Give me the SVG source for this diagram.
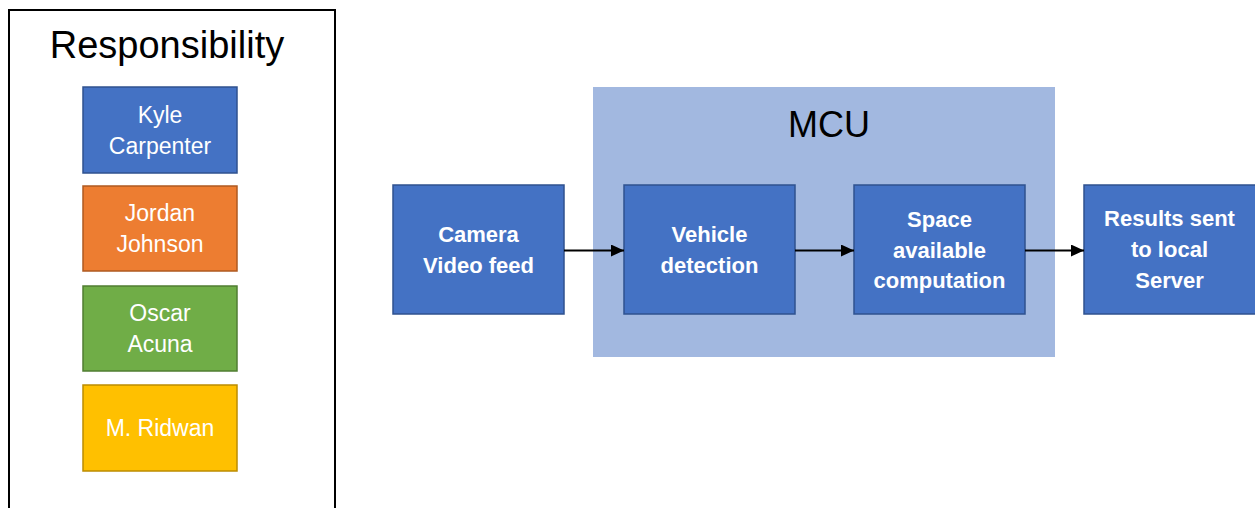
<svg xmlns="http://www.w3.org/2000/svg" width="1255" height="508" viewBox="0 0 1255 508">
<style>
.leg{stroke-width:1.5}
.blue{fill:#4472C4;stroke:#2F528F;stroke-width:1.5}
.lt{font-family:"Liberation Sans",Arial,sans-serif;font-size:23px;fill:#ffffff;text-anchor:middle}
.bt{font-family:"Liberation Sans",Arial,sans-serif;font-size:22px;font-weight:bold;fill:#ffffff;text-anchor:middle}
.title{font-family:"Liberation Sans",Arial,sans-serif;font-size:38px;fill:#000000;text-anchor:middle}
.conn{stroke:#000;stroke-width:2;fill:none}
</style>
<defs>
<marker id="ah" markerWidth="13" markerHeight="12" refX="13" refY="6" orient="auto" markerUnits="userSpaceOnUse">
<path d="M0,0 L13,6 L0,12 Z" fill="#000"/>
</marker>
</defs>
<rect width="1255" height="508" fill="#ffffff"/>
<g id="legend">
<rect x="9" y="10" width="326" height="510" fill="#ffffff" stroke="#000" stroke-width="2"/>
<text class="title" x="167" y="58">Responsibility</text>
</g>
<g id="kyle">
<rect class="leg" x="83" y="87" width="154" height="86" fill="#4472C4" stroke="#2F528F"/>
<text class="lt" x="160" y="123">Kyle</text>
<text class="lt" x="160" y="154">Carpenter</text>
</g>
<g id="jordan">
<rect class="leg" x="83" y="186" width="154" height="85" fill="#ED7D31" stroke="#AE5A21"/>
<text class="lt" x="160" y="221">Jordan</text>
<text class="lt" x="160" y="252">Johnson</text>
</g>
<g id="oscar">
<rect class="leg" x="83" y="286" width="154" height="85" fill="#70AD47" stroke="#507E32"/>
<text class="lt" x="160" y="321">Oscar</text>
<text class="lt" x="160" y="352">Acuna</text>
</g>
<g id="ridwan">
<rect class="leg" x="83" y="385" width="154" height="86" fill="#FFC000" stroke="#BC8C00"/>
<text class="lt" x="160" y="436">M. Ridwan</text>
</g>
<g id="mcu">
<rect x="593" y="87" width="462" height="270" fill="#A2B8E0"/>
<text class="title" x="829" y="137" style="font-size:36px">MCU</text>
</g>
<g id="camera">
<rect class="blue" x="393" y="185" width="171" height="129"/>
<text class="bt" x="478.5" y="242">Camera</text>
<text class="bt" x="478.5" y="273">Video feed</text>
</g>
<g id="vehicle">
<rect class="blue" x="624" y="185" width="171" height="129"/>
<text class="bt" x="709.5" y="242">Vehicle</text>
<text class="bt" x="709.5" y="273">detection</text>
</g>
<g id="space">
<rect class="blue" x="854" y="185" width="171" height="129"/>
<text class="bt" x="939.5" y="227">Space</text>
<text class="bt" x="939.5" y="258">available</text>
<text class="bt" x="939.5" y="288">computation</text>
</g>
<g id="results">
<rect class="blue" x="1084" y="185" width="172" height="129"/>
<text class="bt" x="1169.5" y="226">Results sent</text>
<text class="bt" x="1169.5" y="257">to local</text>
<text class="bt" x="1169.5" y="288">Server</text>
</g>
<g id="connectors">
<line class="conn" x1="564" y1="250.5" x2="624" y2="250.5" marker-end="url(#ah)"/>
<line class="conn" x1="795" y1="250.5" x2="854" y2="250.5" marker-end="url(#ah)"/>
<line class="conn" x1="1025" y1="250.5" x2="1084" y2="250.5" marker-end="url(#ah)"/>
</g>
</svg>
